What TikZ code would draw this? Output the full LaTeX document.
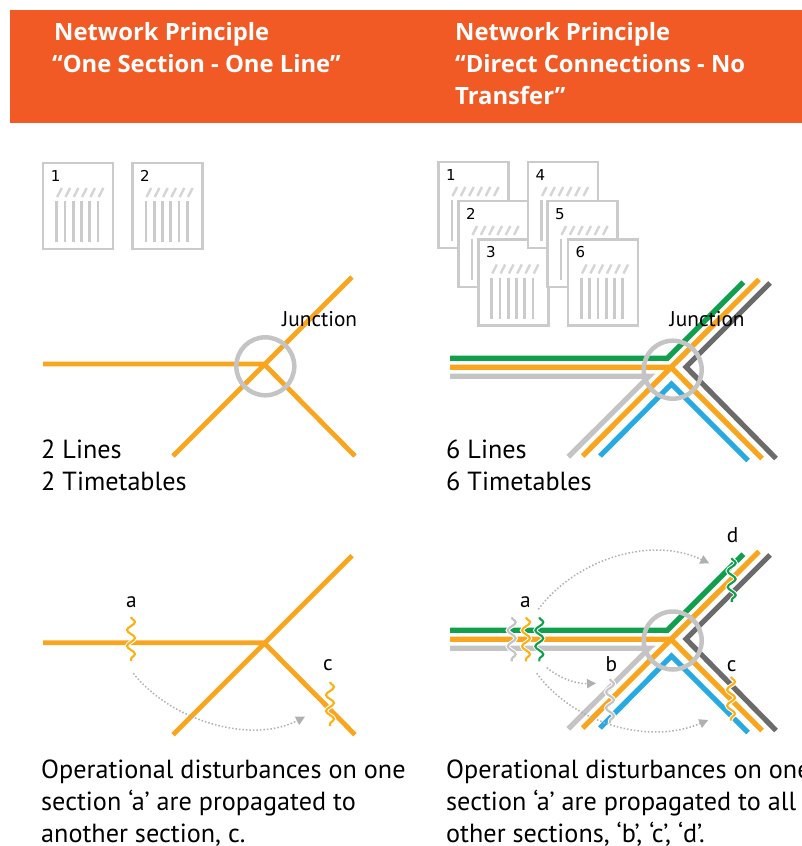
\documentclass[tikz,border=0pt]{standalone}
\usepackage{fontspec}
\setmainfont{PT Sans}
\newfontfamily\headfont{Open Sans}
\newfontfamily\numfont{DejaVu Sans}
\usetikzlibrary{arrows.meta,decorations.pathmorphing}
\definecolor{headorange}{HTML}{F15A24}
\definecolor{lineorange}{HTML}{F9A51E}
\definecolor{waveorange}{HTML}{FBB116}
\definecolor{linegreen}{HTML}{0F9F4D}
\definecolor{lineblue}{HTML}{27AAE1}
\definecolor{linedark}{HTML}{6B6B6B}
\definecolor{linegrey}{HTML}{C4C4C4}
\definecolor{sheetgrey}{HTML}{CBCBCB}
\tikzset{
    track/.style={draw=white, line width=0.8pt, double=#1, double distance=5.2pt},
    ring/.style={circle, draw=linegrey, line width=4.5pt, minimum size=58pt, inner sep=0pt},
    sheet/.style={rectangle, draw=sheetgrey, line width=2.4pt, fill=white, minimum width=70pt, minimum height=86pt, inner sep=0pt, outer sep=0pt, anchor=north west},
    stripe/.style={draw=sheetgrey, line width=2.8pt},
    wave/.style={draw=white, line width=1pt, double=#1, double distance=2.1pt, decorate, decoration={snake, segment length=16pt, amplitude=4pt, pre length=0pt, post length=0pt}},
    spread/.style={draw=linegrey!90!black, line width=1.5pt, dotted, -{Triangle[length=9pt, width=9pt]}},
    head/.style={font=\fontsize{23.8}{32}\headfont\bfseries, text=white, align=left, anchor=north west, inner sep=0pt},
    body/.style={font=\fontsize{26.2}{32}\selectfont, align=left, anchor=north west, inner sep=0pt},
    small/.style={font=\fontsize{21.3}{24}\selectfont, inner sep=0pt},
    num/.style={font=\fontsize{15}{16}\numfont, inner sep=0pt}
}
\begin{document}
\begin{tikzpicture}[x=1pt, y=-1pt]
    \useasboundingbox (0,0) rectangle (802,846);
    \fill[headorange] (10,10) rectangle (802,123);
    \node[head](headl)at(52,22){\hspace{2pt}Network Principle\\“One Section - One Line”};
    \node[head](headr)at(455,22){Network Principle\\“Direct Connections - No\\Transfer”};
    % timetables
    \foreach \id/\x/\y/\n in {a/43.2/163/1, b/132.5/163/2, c/438.5/162/1, d/458.5/201/2, e/478.3/239.5/3, f/528/162/4, g/547.5/201/5, h/568/239.5/6}{
        \node[sheet](sheet\id)at(\x,\y){};
        \node[num](num\id)at([shift={(12.5,13)}]sheet\id.north west){\n};
        \foreach \i in {0,...,5}{
            \draw[stripe] ([shift={(13.5+8.25*\i,38)}]sheet\id.north west)--++(0,41);
            \draw[stripe, draw=sheetgrey!80, line width=2.4pt] ([shift={(14+8.3*\i,34)}]sheet\id.north west)--++(4.6,-9);
        }
    }
    % left networks
    \foreach \s/\dy in {t/0, u/278.7}{
        \coordinate (lw\s) at (43,364+\dy);
        \coordinate (lj\s) at (264,364+\dy);
        \coordinate (lsw\s) at (173,456+\dy);
        \coordinate (lne\s) at (352,277+\dy);
        \coordinate (lse\s) at (355,456+\dy);
        \draw[lineorange, line width=4.8pt] (lw\s)--(lj\s) (lsw\s)--(lne\s) (lj\s)--(lse\s);
    }
    % right networks
    \foreach \s/\dy in {t/0, u/272}{
        \coordinate (gw\s) at (450,358.3+\dy);
        \coordinate (gc\s) at (667.3,358.3+\dy);
        \coordinate (gn\s) at (743.3,282.3+\dy);
        \coordinate (yw\s) at (450,367.3+\dy);
        \coordinate (yc\s) at (671,367.3+\dy);
        \coordinate (yn\s) at (759,279.5+\dy);
        \coordinate (ysw\s) at (582.7,456+\dy);
        \coordinate (yse\s) at (762,458.5+\dy);
        \coordinate (sw\s) at (450,376.3+\dy);
        \coordinate (sc\s) at (649,376.3+\dy);
        \coordinate (ss\s) at (568.3,456.8+\dy);
        \coordinate (bc\s) at (671.5,384+\dy);
        \coordinate (bw\s) at (600,456+\dy);
        \coordinate (be\s) at (748,460.5+\dy);
        \coordinate (dc\s) at (686,367+\dy);
        \coordinate (dn\s) at (770,283+\dy);
        \coordinate (ds\s) at (776,458.5+\dy);
        \draw[track=linegrey] (sw\s)--(sc\s)--(ss\s);
        \draw[track=lineblue] (bw\s)--(bc\s)--(be\s);
        \draw[track=linedark] (dn\s)--(dc\s)--(ds\s);
        \draw[track=linegreen] (gw\s)--(gc\s)--(gn\s);
        \draw[track=lineorange] (yw\s)--(yc\s)--(yn\s) (ysw\s)--(yc\s)--(yse\s);
    }
    % junction rings
    \node[ring](ringl)at(265.3,366.3){};
    \node[ring](ringr)at(672.7,369.7){};
    \node[ring](ringb)at(672.7,640.5){};
    \node[small, anchor=base west](jctl)at(282,326){Junction};
    \node[small, anchor=base west](jctr)at(669.5,326){Junction};
    % disturbances
    \foreach \id/\x/\y/\col in {wa/131/617/waveorange, wc/330/682/waveorange, wg/511.7/617.3/linegrey, wo/526/617.3/waveorange, wr/539.3/617.3/linegreen, wb/610/679/linegrey, wy/731/676.7/waveorange, wd/731.7/558/linegreen}{
        \coordinate (\id top) at (\x,\y);
        \coordinate (\id bot) at (\x,\y+44);
        \draw[wave=\col] (\id top)--(\id bot);
    }
    \foreach \id/\x/\y/\t in {la/131.5/607/a, lc/328/670/c, lra/525.5/607/a, lb/611.3/671/b, lrc/731.7/671/c, ld/732.7/542/d}{
        \node[small, anchor=base](\id)at(\x,\y){\t};
    }
    % propagation
    \coordinate (fromla) at (133.3,673.3);
    \coordinate (tolc) at (305,716.7);
    \coordinate (fromt) at (538.3,609.3);
    \coordinate (tod) at (709.3,563.3);
    \coordinate (fromm) at (546.7,667.7);
    \coordinate (tob) at (596,683.3);
    \coordinate (froml) at (536.7,673.3);
    \coordinate (toc) at (708.3,720);
    \draw[spread] (fromla) .. controls (170,720) and (250,745) .. (tolc);
    \draw[spread] (fromt) .. controls (575,560) and (650,535) .. (tod);
    \draw[spread] (fromm) .. controls (560,678) and (575,684) .. (tob);
    \draw[spread] (froml) .. controls (575,725) and (650,745) .. (toc);
    % captions
    \node[body](sumla)at(41,440){2 Lines\\2 Timetables};
    \node[body](sumr)at(446,440){6 Lines\\6 Timetables};
    \node[body](capl)at(41,759.5){Operational disturbances on one\\section ‘a’ are propagated to\\another section, c.};
    \node[body](capr)at(446,759.5){Operational disturbances on one\\section ‘a’ are propagated to all\\other sections, ‘b’, ‘c’, ‘d’.};
\end{tikzpicture}
\end{document}
